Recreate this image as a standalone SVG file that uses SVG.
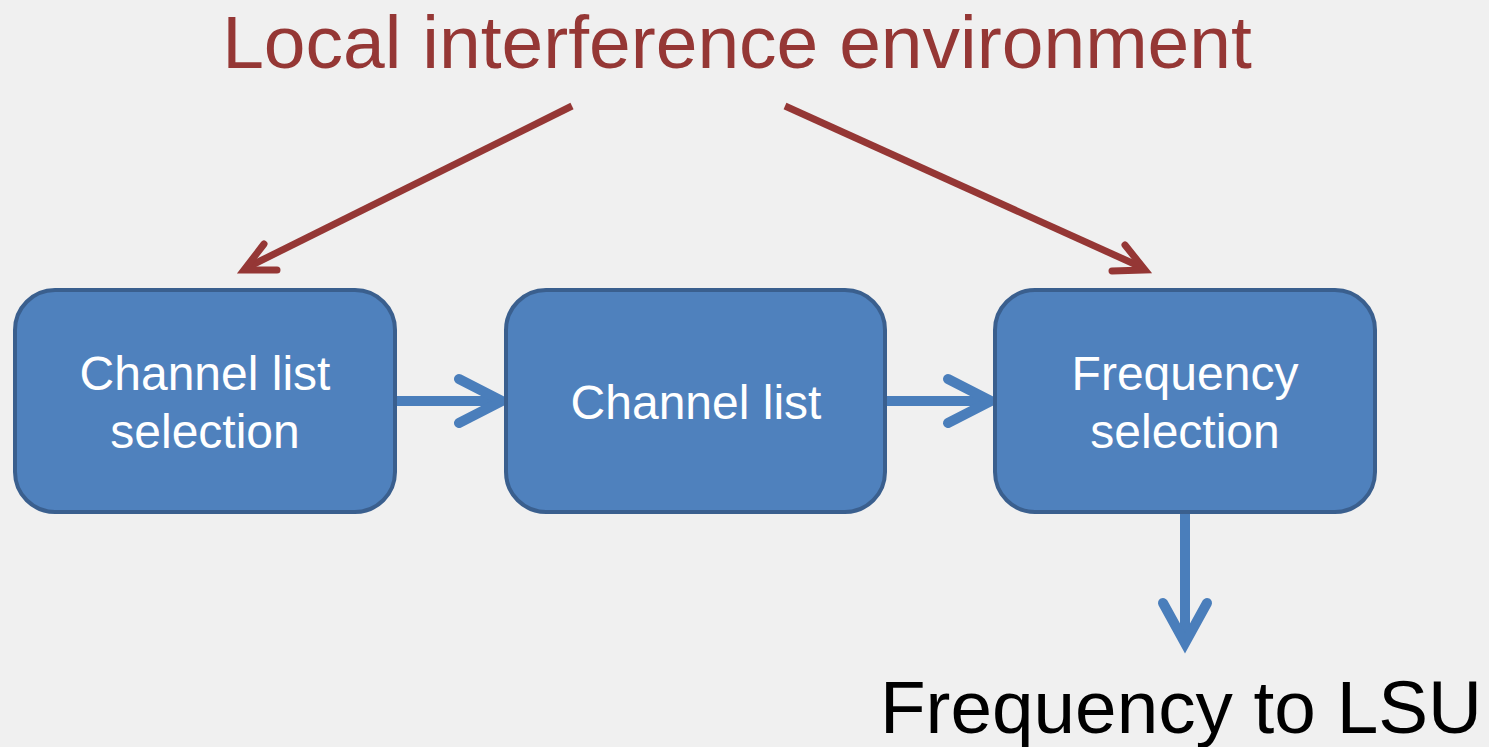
<svg xmlns="http://www.w3.org/2000/svg" width="1489" height="747" viewBox="0 0 1489 747">
  <style>
    .box { fill: #4f81bd; stroke: #3a5f8e; stroke-width: 4; }
    .lbl { font-family: "Liberation Sans", Arial, sans-serif; font-size: 48px; fill: #ffffff; text-anchor: middle; }
    .flow { fill: none; stroke: #4a7ebb; stroke-width: 10; stroke-linecap: butt; }
    .head { fill: none; stroke: #4a7ebb; stroke-width: 10; stroke-linecap: round; stroke-linejoin: miter; }
    .red { fill: none; stroke: #953735; stroke-width: 7; stroke-linecap: butt; }
    .redhead { fill: none; stroke: #953735; stroke-width: 7; stroke-linecap: round; stroke-linejoin: miter; }
    .title { font-family: "Liberation Sans", Arial, sans-serif; font-size: 75px; fill: #953735; text-anchor: middle; }
    .out { font-family: "Liberation Sans", Arial, sans-serif; font-size: 74.7px; fill: #000000; }
  </style>
  <rect width="1489" height="747" fill="#f0f0f0"/>

  <text id="title" class="title" x="737" y="68">Local interference environment</text>

  <g id="connectors">
    <!-- influence arrows from the environment -->
    <line class="red" x1="572" y1="106" x2="248" y2="267"/>
    <polyline class="redhead" points="264,244 244,270 277,270"/>
    <line class="red" x1="785" y1="106" x2="1141" y2="267"/>
    <polyline class="redhead" points="1125,245 1145,270 1112,271"/>
    <!-- flow between blocks -->
    <line class="flow" x1="395" y1="401" x2="500" y2="401"/>
    <polyline class="head" points="459,379 502,401 459,423"/>
    <line class="flow" x1="885" y1="401" x2="990" y2="401"/>
    <polyline class="head" points="948,379 991,401 948,423"/>
    <line class="flow" x1="1185" y1="512" x2="1185" y2="642"/>
    <polyline class="head" points="1163,603 1185,643 1207,603"/>
  </g>

  <g id="node-channel-list-selection">
    <rect class="box" x="15" y="290" width="380" height="222" rx="40" ry="40"/>
    <text class="lbl" x="205" y="390">Channel list</text>
    <text class="lbl" x="205" y="448">selection</text>
  </g>

  <g id="node-channel-list">
    <rect class="box" x="506" y="290" width="379" height="222" rx="40" ry="40"/>
    <text class="lbl" x="696" y="419">Channel list</text>
  </g>

  <g id="node-frequency-selection">
    <rect class="box" x="995" y="290" width="380" height="222" rx="40" ry="40"/>
    <text class="lbl" x="1185" y="390">Frequency</text>
    <text class="lbl" x="1185" y="448">selection</text>
  </g>

  <text id="output" class="out" x="880" y="733">Frequency to LSU</text>
</svg>
